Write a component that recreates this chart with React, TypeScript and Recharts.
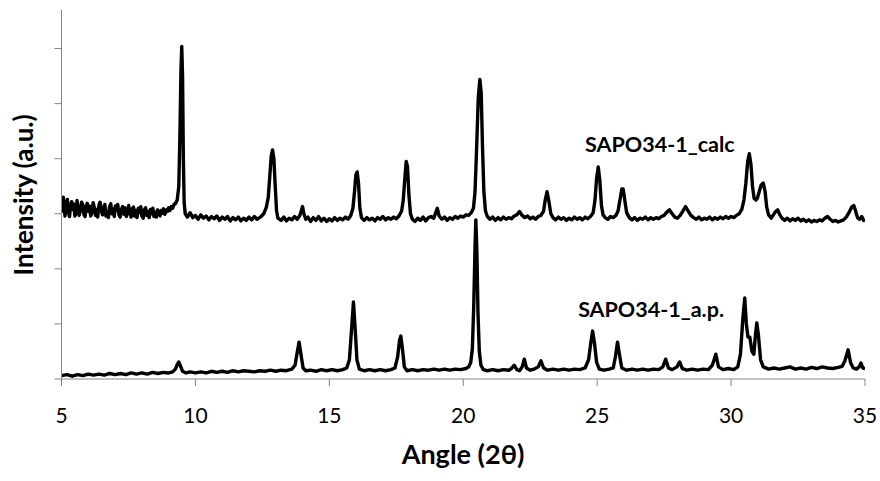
import React from "react";
import { LineChart, Line, XAxis, YAxis, ReferenceDot } from "recharts";

// [angle 2θ, intensity] (offset upwards by ~3 units)
const calcPattern: [number, number][] = [
  [5.0, 3.24], [5.03, 3.05], [5.07, 3.3], [5.1, 3.12], [5.13, 2.96], [5.18, 3.2], [5.22, 3.26],
  [5.26, 3.02], [5.3, 2.95], [5.34, 3.15], [5.38, 3.22], [5.41, 3.08], [5.45, 3.18], [5.5, 2.96],
  [5.54, 3.0], [5.58, 3.24], [5.62, 3.1], [5.66, 2.97], [5.71, 3.06], [5.75, 3.21], [5.8, 3.16],
  [5.84, 2.98], [5.88, 2.95], [5.92, 3.12], [5.96, 3.19], [6.01, 3.04], [6.05, 3.14], [6.09, 2.96],
  [6.14, 3.02], [6.18, 3.2], [6.22, 3.13], [6.27, 2.97], [6.31, 3.08], [6.35, 2.94], [6.4, 3.16],
  [6.44, 3.21], [6.49, 3.05], [6.53, 2.98], [6.57, 3.1], [6.62, 3.17], [6.66, 2.96], [6.7, 3.03],
  [6.75, 2.93], [6.79, 3.12], [6.84, 3.18], [6.88, 3.0], [6.92, 3.09], [6.97, 2.95], [7.01, 3.14],
  [7.06, 3.06], [7.1, 3.17], [7.15, 2.97], [7.19, 2.94], [7.24, 3.08], [7.28, 3.13], [7.33, 2.99],
  [7.37, 3.11], [7.42, 2.95], [7.46, 3.03], [7.51, 3.15], [7.55, 3.01], [7.6, 2.94], [7.64, 3.09],
  [7.69, 3.12], [7.73, 2.96], [7.78, 3.06], [7.82, 2.93], [7.87, 3.1], [7.91, 3.02], [7.96, 3.13],
  [8.0, 2.96], [8.05, 2.92], [8.09, 3.07], [8.14, 3.11], [8.18, 2.97], [8.23, 3.04], [8.27, 2.93],
  [8.32, 3.08], [8.36, 3.0], [8.41, 3.1], [8.45, 2.95], [8.5, 3.03], [8.54, 2.94], [8.59, 3.07],
  [8.63, 3.02], [8.68, 2.96], [8.72, 3.06], [8.77, 3.01], [8.81, 3.09], [8.86, 2.99], [8.9, 3.07],
  [8.95, 3.04], [9.0, 3.11], [9.05, 3.06], [9.1, 3.13], [9.15, 3.1], [9.2, 3.17],
  [9.25, 3.18], [9.32, 3.25], [9.38, 3.5], [9.42, 4.4], [9.46, 5.6], [9.49, 6.04],
  [9.52, 5.5], [9.55, 4.0], [9.58, 3.2], [9.62, 3.0], [9.7, 2.94], [9.8, 3.02], [9.9, 2.93],
  [10.0, 2.97], [10.1, 2.9], [10.2, 2.98], [10.3, 2.92], [10.4, 2.96], [10.5, 2.89], [10.6, 2.95],
  [10.7, 2.91], [10.8, 2.96], [10.9, 2.88], [11.0, 2.94], [11.1, 2.9], [11.2, 2.95], [11.3, 2.87],
  [11.4, 2.93], [11.5, 2.89], [11.6, 2.94], [11.7, 2.87], [11.8, 2.92], [11.9, 2.88], [12.0, 2.94],
  [12.1, 2.89], [12.2, 2.95], [12.3, 2.9], [12.45, 2.95], [12.55, 3.0], [12.65, 3.12], [12.72, 3.3],
  [12.78, 3.7], [12.83, 4.05], [12.88, 4.16], [12.93, 4.0], [12.98, 3.5], [13.03, 3.05], [13.08, 2.92],
  [13.2, 2.88], [13.3, 2.94], [13.4, 2.87], [13.5, 2.92], [13.6, 2.89], [13.7, 2.95], [13.8, 2.9],
  [13.9, 2.97], [14.0, 3.13], [14.05, 3.0], [14.12, 2.9], [14.2, 2.94], [14.3, 2.86], [14.4, 2.93],
  [14.5, 2.88], [14.6, 2.95], [14.7, 2.87], [14.8, 2.92], [14.9, 2.86], [15.0, 2.91], [15.1, 2.87],
  [15.2, 2.93], [15.3, 2.88], [15.4, 2.92], [15.5, 2.89], [15.6, 2.94], [15.7, 2.9], [15.8, 2.97],
  [15.88, 3.1], [15.94, 3.4], [15.99, 3.7], [16.04, 3.76], [16.09, 3.55], [16.14, 3.1], [16.2, 2.93],
  [16.3, 2.88], [16.4, 2.93], [16.5, 2.89], [16.6, 2.92], [16.7, 2.87], [16.8, 2.93], [16.9, 2.9],
  [17.0, 2.95], [17.1, 2.89], [17.2, 2.93], [17.3, 2.9], [17.4, 2.94], [17.5, 2.91], [17.6, 2.96],
  [17.7, 3.05], [17.76, 3.25], [17.82, 3.65], [17.87, 3.95], [17.92, 3.85], [17.97, 3.35], [18.03, 3.0],
  [18.1, 2.9], [18.2, 2.86], [18.3, 2.92], [18.4, 2.88], [18.5, 2.94], [18.6, 2.87], [18.7, 2.93],
  [18.8, 2.95], [18.9, 2.92], [19.03, 3.1], [19.1, 2.96], [19.2, 2.9], [19.3, 2.94], [19.4, 2.88],
  [19.5, 2.93], [19.6, 2.9], [19.7, 2.95], [19.8, 2.92], [19.9, 2.96], [20.0, 2.94], [20.1, 2.98],
  [20.2, 2.97], [20.3, 3.02], [20.38, 3.1], [20.44, 3.4], [20.5, 4.2], [20.56, 5.1], [20.62, 5.44],
  [20.67, 5.2], [20.72, 4.2], [20.77, 3.4], [20.83, 3.05], [20.9, 2.95], [21.0, 2.9], [21.1, 2.94],
  [21.2, 2.88], [21.3, 2.93], [21.4, 2.89], [21.5, 2.94], [21.6, 2.9], [21.7, 2.93], [21.8, 2.91],
  [21.9, 2.96], [22.0, 2.98], [22.1, 3.04], [22.2, 2.97], [22.3, 2.93], [22.4, 2.96], [22.5, 2.91],
  [22.6, 2.94], [22.7, 2.9], [22.8, 2.95], [22.9, 2.97], [23.0, 3.05], [23.06, 3.25], [23.13, 3.4],
  [23.2, 3.22], [23.27, 3.0], [23.35, 2.93], [23.45, 2.89], [23.55, 2.94], [23.65, 2.9], [23.75, 2.93],
  [23.85, 2.88], [23.95, 2.92], [24.05, 2.89], [24.15, 2.94], [24.25, 2.9], [24.35, 2.93], [24.45, 2.89],
  [24.55, 2.94], [24.65, 2.91], [24.75, 2.95], [24.85, 3.02], [24.92, 3.25], [24.98, 3.65], [25.04, 3.85],
  [25.1, 3.6], [25.16, 3.15], [25.22, 2.98], [25.3, 2.93], [25.4, 2.9], [25.5, 2.95], [25.6, 2.93],
  [25.7, 2.97], [25.78, 3.05], [25.85, 3.25], [25.92, 3.45], [25.97, 3.45], [26.03, 3.25], [26.1, 3.02],
  [26.2, 2.93], [26.3, 2.89], [26.4, 2.93], [26.5, 2.88], [26.6, 2.92], [26.7, 2.9], [26.8, 2.94],
  [26.9, 2.89], [27.0, 2.93], [27.1, 2.9], [27.2, 2.93], [27.3, 2.91], [27.4, 2.95], [27.5, 2.97],
  [27.6, 3.03], [27.7, 3.07], [27.8, 3.0], [27.9, 2.94], [28.0, 2.92], [28.1, 2.97], [28.2, 3.05],
  [28.3, 3.13], [28.4, 3.05], [28.5, 2.97], [28.6, 2.93], [28.7, 2.9], [28.8, 2.94], [28.9, 2.89],
  [29.0, 2.92], [29.1, 2.9], [29.2, 2.94], [29.3, 2.89], [29.4, 2.93], [29.5, 2.9], [29.6, 2.94],
  [29.7, 2.91], [29.8, 2.95], [29.9, 2.92], [30.0, 2.95], [30.1, 2.93], [30.2, 2.97], [30.3, 3.0],
  [30.4, 3.08], [30.48, 3.25], [30.55, 3.55], [30.62, 3.95], [30.68, 4.09], [30.74, 3.9], [30.8, 3.5],
  [30.86, 3.28], [30.93, 3.25], [30.98, 3.28], [31.05, 3.4], [31.12, 3.52], [31.2, 3.56], [31.27, 3.4],
  [31.33, 3.12], [31.4, 2.98], [31.5, 2.92], [31.58, 2.98], [31.66, 3.04], [31.74, 3.07], [31.82, 2.98],
  [31.9, 2.92], [32.0, 2.88], [32.1, 2.92], [32.2, 2.87], [32.3, 2.91], [32.4, 2.88], [32.5, 2.92],
  [32.6, 2.87], [32.7, 2.9], [32.8, 2.86], [32.9, 2.89], [33.0, 2.85], [33.1, 2.88], [33.2, 2.86],
  [33.3, 2.89], [33.4, 2.87], [33.5, 2.92], [33.6, 2.95], [33.7, 2.9], [33.8, 2.86], [33.9, 2.88],
  [34.0, 2.85], [34.1, 2.87], [34.2, 2.89], [34.3, 2.94], [34.4, 3.02], [34.5, 3.12], [34.58, 3.15],
  [34.65, 3.05], [34.72, 2.93], [34.8, 2.9], [34.88, 2.95], [34.95, 2.88], [35.0, 2.9],
];

// [angle 2θ, intensity]
const apPattern: [number, number][] = [
  [5.0, 0.06], [5.2, 0.08], [5.4, 0.05], [5.6, 0.08], [5.8, 0.06], [6.0, 0.09], [6.2, 0.07],
  [6.4, 0.09], [6.6, 0.07], [6.8, 0.1], [7.0, 0.08], [7.2, 0.1], [7.4, 0.08], [7.6, 0.11],
  [7.8, 0.09], [8.0, 0.11], [8.2, 0.09], [8.4, 0.12], [8.6, 0.1], [8.8, 0.12], [9.0, 0.11],
  [9.15, 0.13], [9.25, 0.18], [9.32, 0.26], [9.38, 0.31], [9.44, 0.24], [9.52, 0.14], [9.65, 0.11],
  [9.8, 0.13], [10.0, 0.11], [10.2, 0.13], [10.4, 0.11], [10.6, 0.14], [10.8, 0.12], [11.0, 0.14],
  [11.2, 0.12], [11.4, 0.15], [11.6, 0.13], [11.8, 0.15], [12.0, 0.14], [12.2, 0.13], [12.4, 0.15],
  [12.6, 0.14], [12.8, 0.16], [13.0, 0.14], [13.2, 0.16], [13.4, 0.15], [13.6, 0.18], [13.72, 0.25],
  [13.8, 0.48], [13.87, 0.67], [13.94, 0.45], [14.02, 0.2], [14.12, 0.15], [14.3, 0.16], [14.5, 0.14],
  [14.7, 0.17], [14.9, 0.15], [15.1, 0.17], [15.3, 0.15], [15.5, 0.17], [15.65, 0.2], [15.75, 0.35],
  [15.83, 0.9], [15.9, 1.4], [15.96, 0.95], [16.03, 0.35], [16.12, 0.18], [16.3, 0.15], [16.5, 0.17],
  [16.7, 0.15], [16.9, 0.17], [17.1, 0.15], [17.3, 0.17], [17.45, 0.2], [17.55, 0.4], [17.62, 0.7],
  [17.67, 0.78], [17.73, 0.55], [17.8, 0.22], [17.9, 0.15], [18.1, 0.17], [18.3, 0.15], [18.5, 0.17],
  [18.7, 0.16], [18.9, 0.18], [19.1, 0.16], [19.3, 0.18], [19.5, 0.16], [19.7, 0.18], [19.9, 0.17],
  [20.1, 0.19], [20.2, 0.22], [20.28, 0.3], [20.34, 0.55], [20.39, 1.3], [20.44, 2.4], [20.47, 2.89],
  [20.51, 2.3], [20.55, 1.2], [20.6, 0.5], [20.66, 0.25], [20.75, 0.17], [20.9, 0.15], [21.1, 0.17],
  [21.3, 0.15], [21.5, 0.17], [21.7, 0.16], [21.8, 0.19], [21.9, 0.25], [22.0, 0.17], [22.1, 0.15],
  [22.2, 0.22], [22.28, 0.36], [22.36, 0.2], [22.5, 0.16], [22.65, 0.18], [22.8, 0.22], [22.9, 0.33],
  [23.0, 0.2], [23.15, 0.16], [23.35, 0.18], [23.55, 0.16], [23.75, 0.18], [23.95, 0.16], [24.15, 0.18],
  [24.35, 0.17], [24.55, 0.2], [24.68, 0.35], [24.76, 0.65], [24.83, 0.87], [24.9, 0.65], [24.98, 0.3],
  [25.08, 0.18], [25.25, 0.16], [25.45, 0.18], [25.6, 0.2], [25.68, 0.4], [25.76, 0.67], [25.83, 0.45],
  [25.92, 0.2], [26.1, 0.16], [26.3, 0.18], [26.5, 0.16], [26.7, 0.18], [26.9, 0.16], [27.1, 0.18],
  [27.3, 0.17], [27.45, 0.22], [27.56, 0.36], [27.66, 0.2], [27.8, 0.17], [27.98, 0.22], [28.08, 0.31],
  [28.18, 0.19], [28.35, 0.16], [28.55, 0.18], [28.75, 0.16], [28.95, 0.18], [29.15, 0.17], [29.3, 0.25],
  [29.43, 0.45], [29.53, 0.22], [29.7, 0.17], [29.9, 0.19], [30.1, 0.17], [30.25, 0.22], [30.35, 0.45],
  [30.44, 1.1], [30.51, 1.47], [30.57, 1.0], [30.63, 0.76], [30.7, 0.76], [30.78, 0.5], [30.85, 0.45],
  [30.91, 0.8], [30.96, 1.02], [31.02, 0.8], [31.1, 0.35], [31.2, 0.22], [31.4, 0.18], [31.6, 0.2],
  [31.8, 0.18], [32.0, 0.2], [32.2, 0.22], [32.4, 0.18], [32.6, 0.2], [32.8, 0.18], [33.0, 0.21],
  [33.2, 0.19], [33.4, 0.22], [33.6, 0.2], [33.8, 0.19], [34.0, 0.21], [34.15, 0.23], [34.25, 0.33],
  [34.37, 0.53], [34.46, 0.3], [34.56, 0.2], [34.68, 0.18], [34.78, 0.22], [34.85, 0.29], [34.92, 0.2],
  [35.0, 0.19],
];

const angleTicks = [5, 10, 15, 20, 25, 30, 35];
const intensityTicks = [0, 1, 2, 3, 4, 5, 6];

const FONT = "Lato, 'Open Sans', sans-serif";
const AXIS_GREY = "#868686";

const toRows = (pts: [number, number][]) => pts.map(([angle, intensity]) => ({ angle, intensity }));

const SeriesLabel = ({ text }: { text: string }) => (props: any) => (
  <text x={props.viewBox.x} y={props.viewBox.y} fontFamily={FONT} fontWeight={700} fontSize={21.5} fill="#000">
    {text}
  </text>
);

const App: React.FC = () => {
  const calcData = toRows(calcPattern);
  const apData = toRows(apPattern);

  return (
    <div style={{ position: "absolute", left: 0, top: 0, width: 880, height: 481, background: "#fff" }}>
      <LineChart width={880} height={481} margin={{ top: 10, right: 15, bottom: 0, left: 0 }}>
        <XAxis
          type="number"
          dataKey="angle"
          domain={[5, 35]}
          ticks={angleTicks}
          allowDataOverflow
          height={102}
          tickSize={7}
          tickMargin={22}
          stroke={AXIS_GREY}
          tick={{ fill: "#000", fontSize: 21, fontFamily: FONT }}
          label={{
            content: () => (
              <text x={463} y={464} textAnchor="middle" fontFamily={FONT} fontWeight={700} fontSize={27} fill="#000">
                Angle (2θ)
              </text>
            ),
          }}
        />
        <YAxis
          type="number"
          domain={[0, 6.7]}
          ticks={intensityTicks}
          width={61.5}
          tickSize={7}
          tickFormatter={() => ""}
          stroke={AXIS_GREY}
          label={{
            content: () => (
              <text
                x={33}
                y={195}
                transform="rotate(-90 33 195)"
                textAnchor="middle"
                fontFamily={FONT}
                fontWeight={700}
                fontSize={26}
                fill="#000"
              >
                Intensity (a.u.)
              </text>
            ),
          }}
        />
        <Line
          data={calcData}
          dataKey="intensity"
          type="linear"
          stroke="#000"
          strokeWidth={3.4}
          strokeLinejoin="round"
          dot={false}
          isAnimationActive={false}
        />
        <Line
          data={apData}
          dataKey="intensity"
          type="linear"
          stroke="#000"
          strokeWidth={3.4}
          strokeLinejoin="round"
          dot={false}
          isAnimationActive={false}
        />
        <ReferenceDot x={24.55} y={4.12} r={0} stroke="none" label={{ content: SeriesLabel({ text: "SAPO34-1_calc" }) }} />
        <ReferenceDot x={24.29} y={1.125} r={0} stroke="none" label={{ content: SeriesLabel({ text: "SAPO34-1_a.p." }) }} />
      </LineChart>
    </div>
  );
};

export default App;
